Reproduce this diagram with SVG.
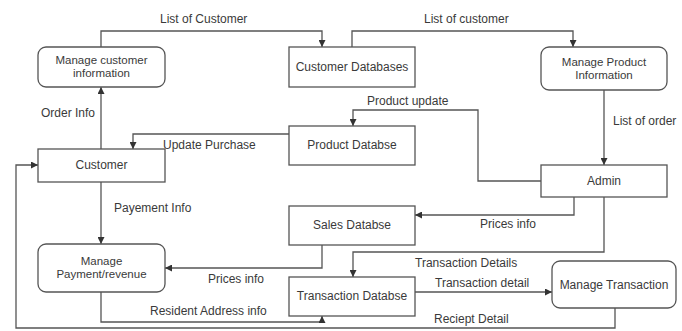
<svg xmlns="http://www.w3.org/2000/svg" width="682" height="331" viewBox="0 0 682 331">
  <style>
    .box { fill: #ffffff; stroke: #555555; stroke-width: 1.3; }
    .lbl { font-family: "Liberation Sans", Arial, sans-serif; font-size: 12px; fill: #3a3a3a; }
    .two { font-size: 11.5px; }
    .ctr { text-anchor: middle; }
    .flow { fill: none; stroke: #555555; stroke-width: 1.3; marker-end: url(#arrow); }
  </style>
  <defs>
    <marker id="arrow" viewBox="0 0 10 10" refX="10" refY="5" markerWidth="7" markerHeight="7" markerUnits="userSpaceOnUse" orient="auto">
      <path d="M0,0 L10,5 L0,10 z" fill="#333333"/>
    </marker>
  </defs>
  <rect width="682" height="331" fill="#ffffff"/>

  <!-- connectors -->
  <g id="connectors">
    <!-- List of Customer -->
    <path class="flow" d="M101,47 V31 H322 V47"/>
    <!-- List of customer -->
    <path class="flow" d="M352,47 V31 H573 V47"/>
    <!-- List of order -->
    <path class="flow" d="M604,90 V165"/>
    <!-- Product update -->
    <path class="flow" d="M541,181 H478 V110 H353 V126"/>
    <!-- Update Purchase -->
    <path class="flow" d="M289,134 H133 V149"/>
    <!-- Order Info -->
    <path class="flow" d="M101,149 V87"/>
    <!-- Payement Info -->
    <path class="flow" d="M101,182 V244"/>
    <!-- Prices info: Admin to Sales -->
    <path class="flow" d="M574,197 V215 H415"/>
    <!-- Prices info: Sales to Payment -->
    <path class="flow" d="M322,245 V268 H165"/>
    <!-- Transaction Details -->
    <path class="flow" d="M604,197 V252 H353 V277"/>
    <!-- Transaction detail -->
    <path class="flow" d="M415,292 H552"/>
    <!-- Resident Address info -->
    <path class="flow" d="M101,292 V322 H322 V316"/>
    <!-- Reciept Detail -->
    <path class="flow" d="M615,308 V328 H16 V165 H38"/>

    <text class="lbl" x="160" y="23">List of Customer</text>
    <text class="lbl" x="424" y="23">List of customer</text>
    <text class="lbl" x="613" y="125">List of order</text>
    <text class="lbl" x="367" y="105">Product update</text>
    <text class="lbl" x="163" y="149">Update Purchase</text>
    <text class="lbl" x="41" y="117">Order Info</text>
    <text class="lbl" x="114" y="212">Payement Info</text>
    <text class="lbl" x="480" y="228">Prices info</text>
    <text class="lbl" x="208" y="283">Prices info</text>
    <text class="lbl" x="415" y="267">Transaction Details</text>
    <text class="lbl" x="435" y="287">Transaction detail</text>
    <text class="lbl" x="150" y="315">Resident Address info</text>
    <text class="lbl" x="434" y="323">Reciept Detail</text>
  </g>

  <g id="manage-customer-information">
    <rect class="box" x="38" y="47" width="127" height="40" rx="8"/>
    <text class="lbl two ctr" x="101.5" y="64">Manage customer</text>
    <text class="lbl two ctr" x="101.5" y="77">information</text>
  </g>
  <g id="customer-databases">
    <rect class="box" x="289" y="47" width="126" height="40"/>
    <text class="lbl ctr" x="352" y="71">Customer Databases</text>
  </g>
  <g id="manage-product-information">
    <rect class="box" x="541" y="47" width="126" height="43" rx="8"/>
    <text class="lbl two ctr" x="604" y="66">Manage Product</text>
    <text class="lbl two ctr" x="604" y="79">Information</text>
  </g>
  <g id="product-databse">
    <rect class="box" x="289" y="126" width="126" height="39"/>
    <text class="lbl ctr" x="352" y="149">Product Databse</text>
  </g>
  <g id="customer">
    <rect class="box" x="38" y="149" width="127" height="33"/>
    <text class="lbl ctr" x="101.5" y="169">Customer</text>
  </g>
  <g id="admin">
    <rect class="box" x="541" y="165" width="126" height="32"/>
    <text class="lbl ctr" x="604" y="185">Admin</text>
  </g>
  <g id="sales-databse">
    <rect class="box" x="289" y="206" width="126" height="39"/>
    <text class="lbl ctr" x="352" y="229">Sales Databse</text>
  </g>
  <g id="manage-payment-revenue">
    <rect class="box" x="38" y="244" width="127" height="48" rx="8"/>
    <text class="lbl two ctr" x="101.5" y="265">Manage</text>
    <text class="lbl two ctr" x="101.5" y="278">Payment/revenue</text>
  </g>
  <g id="transaction-databse">
    <rect class="box" x="289" y="277" width="126" height="39"/>
    <text class="lbl ctr" x="352" y="300">Transaction Databse</text>
  </g>
  <g id="manage-transaction">
    <rect class="box" x="552" y="261" width="124" height="47" rx="8"/>
    <text class="lbl ctr" x="614" y="289">Manage Transaction</text>
  </g>
</svg>
